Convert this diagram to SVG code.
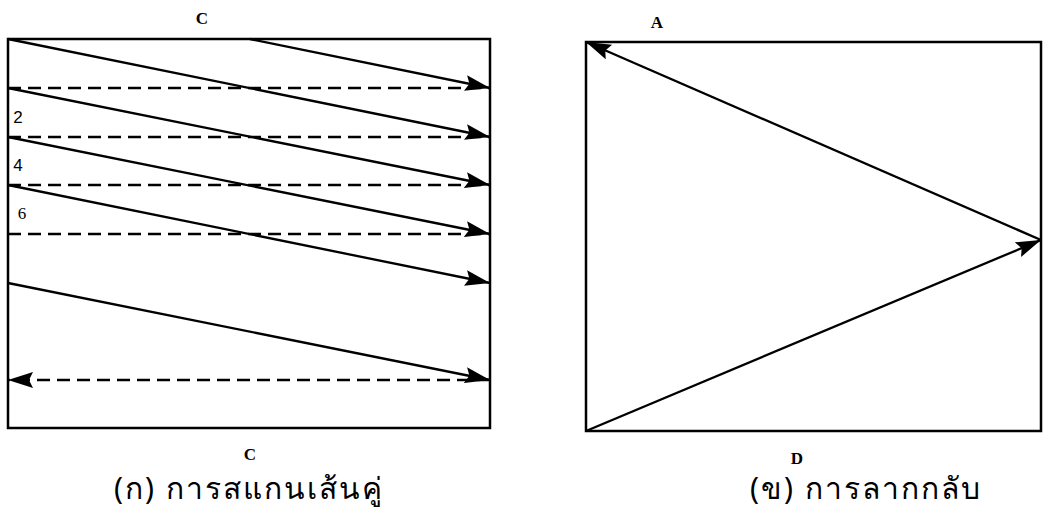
<svg xmlns="http://www.w3.org/2000/svg" width="1048" height="528" viewBox="0 0 1048 528">
<style>
.box{fill:none;stroke:#000;stroke-width:2.5}
.s{fill:none;stroke:#000;stroke-width:2.3;marker-end:url(#ah)}
.d{fill:none;stroke:#000;stroke-width:2.3;stroke-dasharray:13 7}
.lbl{font-family:"Liberation Serif",serif;font-size:17px;font-weight:bold;fill:#000}
.num{font-family:"Liberation Sans",sans-serif;font-size:17px;fill:#000}
.cap{font-family:"Noto Sans","DejaVu Sans",sans-serif;font-size:30px;letter-spacing:2px;fill:#000}
</style>
<defs>
<marker id="ah" markerUnits="userSpaceOnUse" markerWidth="28" markerHeight="18" refX="25" refY="8" orient="auto-start-reverse">
<path d="M0,0 L25,8 L0,16 L4,8 z" fill="#000"/>
</marker>
</defs>
<rect x="0" y="0" width="1048" height="528" fill="#fff"/>
<g id="panel-a">
<rect class="box" x="8" y="39" width="482" height="389"/>
<text class="lbl" x="202" y="24" text-anchor="middle">C</text>
<text class="num" x="18" y="123" text-anchor="middle">2</text>
<text class="num" x="18" y="171" text-anchor="middle">4</text>
<text class="lbl" x="22" y="219" text-anchor="middle" style="font-weight:normal">6</text>
<text class="lbl" x="250" y="460" text-anchor="middle">C</text>
<text class="cap" x="249" y="499" text-anchor="middle">(ก) การสแกนเส้นคู่</text>
</g>
<g id="panel-b">
<rect class="box" x="586" y="42" width="455" height="389"/>
<text class="lbl" x="657" y="28" text-anchor="middle">A</text>
<text class="lbl" x="797" y="464" text-anchor="middle">D</text>
<text class="cap" x="866" y="499" text-anchor="middle">(ข) การลากกลับ</text>
</g>
<g id="connectors">
<line class="s" x1="250" y1="39" x2="490" y2="88"/>
<line class="s" x1="8" y1="39" x2="490" y2="137"/>
<line class="s" x1="8" y1="88" x2="490" y2="185"/>
<line class="s" x1="8" y1="137" x2="490" y2="234"/>
<line class="s" x1="8" y1="185" x2="490" y2="283"/>
<line class="s" x1="8" y1="283" x2="490" y2="380"/>
<line class="d" x1="8" y1="88" x2="490" y2="88"/>
<line class="d" x1="8" y1="137" x2="490" y2="137"/>
<line class="d" x1="8" y1="185" x2="490" y2="185"/>
<line class="d" x1="8" y1="234" x2="490" y2="234"/>
<line class="d" x1="490" y1="380" x2="8" y2="380" style="marker-end:url(#ah)"/>
<line class="s" x1="1041" y1="240" x2="586" y2="42"/>
<line class="s" x1="586" y1="431" x2="1041" y2="240"/>
</g>
</svg>
